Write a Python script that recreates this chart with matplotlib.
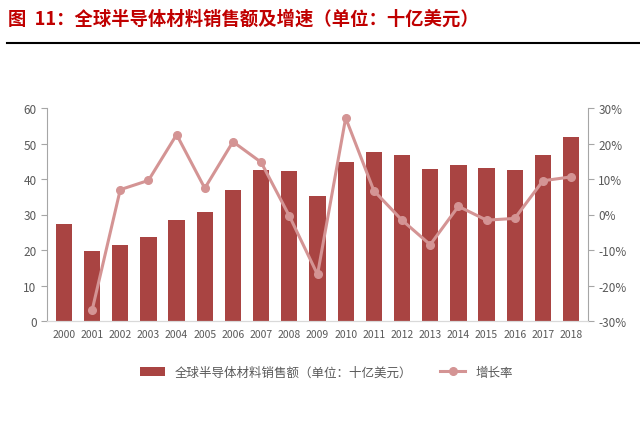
import matplotlib.pyplot as plt
import numpy as np

plt.rcParams['font.family'] = ['Noto Sans CJK SC', 'DejaVu Sans']

years = ['2000', '2001', '2002', '2003', '2004', '2005', '2006', '2007', '2008', '2009',
         '2010', '2011', '2012', '2013', '2014', '2015', '2016', '2017', '2018']
sales = [27.2, 19.8, 21.4, 23.6, 28.5, 30.7, 37.0, 42.5, 42.3, 35.1,
         44.8, 47.7, 46.9, 42.9, 44.0, 43.2, 42.6, 46.9, 51.9]
growth = [None, -27.0, 7.0, 9.6, 22.5, 7.4, 20.5, 14.7, -0.4, -16.9,
          27.2, 6.7, -1.6, -8.5, 2.3, -1.6, -1.1, 9.5, 10.6]

bar_color = '#A94442'
line_color = '#D49494'
grey = '#595959'

fig = plt.figure(figsize=(6.4, 4.39), dpi=100)
ax = fig.add_axes([47 / 640, 1 - 322 / 439, (588 - 47) / 640, (322 - 109) / 439])

x = np.arange(len(years))
ax.bar(x, sales, width=0.58, color=bar_color, label='全球半导体材料销售额（单位：十亿美元）')
ax.set_xlim(-0.6, len(years) - 0.4)
ax.set_ylim(0, 60)
ax.set_yticks(range(0, 61, 10))
ax.set_xticks(x)
ax.set_xticklabels(years)

ax2 = ax.twinx()
gx = [i for i, g in enumerate(growth) if g is not None]
gy = [g for g in growth if g is not None]
ax2.plot(gx, gy, color=line_color, lw=2.2, marker='o', ms=5.5, label='增长率')
ax2.set_ylim(-30, 30)
ax2.set_yticks(range(-30, 31, 10))
ax2.set_yticklabels([f'{v}%' for v in range(-30, 31, 10)])

for a in (ax, ax2):
    a.spines['top'].set_visible(False)
    a.spines['left'].set_color('#A6A6A6')
    a.spines['right'].set_color('#A6A6A6')
    a.spines['bottom'].set_color('#D9D9D9')
    a.tick_params(colors=grey, labelsize=8.5, length=4, width=0.8)
    a.tick_params(axis='y', color='#A6A6A6')
ax.spines['right'].set_visible(False)
ax2.spines['left'].set_visible(False)
ax.tick_params(axis='x', length=0, labelsize=7.5, pad=6)

h1, l1 = ax.get_legend_handles_labels()
h2, l2 = ax2.get_legend_handles_labels()
fig.legend(h1 + h2, l1 + l2, loc='center', bbox_to_anchor=(0.51, 1 - 373 / 439),
           ncol=2, frameon=False, fontsize=9, labelcolor=grey,
           columnspacing=2.2, handlelength=2.0)

fig.text(8 / 640, 1 - 19 / 439, '图  11：全球半导体材料销售额及增速（单位：十亿美元）',
         color='#C00000', fontsize=13.2, fontweight='bold', va='center', ha='left')
fig.add_artist(plt.Line2D([7 / 640, 1.0], [1 - 44 / 439, 1 - 44 / 439],
                          color='black', lw=1.5, transform=fig.transFigure))

fig.savefig('out.png', dpi=100)
